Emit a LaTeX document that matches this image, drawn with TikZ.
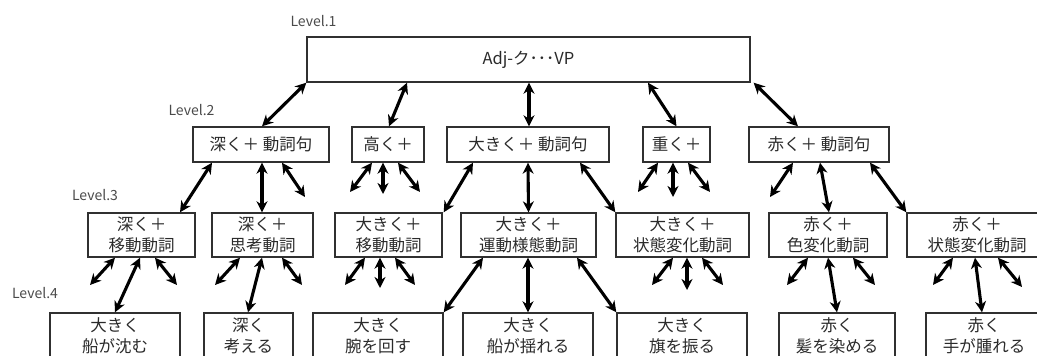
\documentclass[tikz,border=0pt]{standalone}
\usepackage{fontspec}
\setmainfont{Noto Sans CJK JP}
\usetikzlibrary{arrows.meta}
\definecolor{txt}{HTML}{2A2A2A}
\definecolor{frame}{HTML}{303030}
\tikzset{
  box/.style={draw=frame, line width=1.4pt, inner sep=0pt, align=center, text=txt, font=\fontsize{16.5}{20.5}\selectfont},
  lvl/.style={text=txt!85, font=\fontsize{14}{16}\selectfont, inner sep=0pt},
  link/.style={line width=3.1pt, {Stealth[length=11pt,width=11pt,inset=3.5pt]}-{Stealth[length=11pt,width=11pt,inset=3.5pt]}},
}
\begin{document}
\begin{tikzpicture}[x=1pt,y=-1pt]
\useasboundingbox (0,0) rectangle (1037,356);
\clip (0,0) rectangle (1037,356);

% Level labels
\node[lvl] (lv1) at (313.5,21) {Level.1};
\node[lvl] (lv2) at (191.5,110) {Level.2};
\node[lvl] (lv3) at (95,195) {Level.3};
\node[lvl] (lv4) at (35,293) {Level.4};

% Level 1
\node[box, minimum width=443pt, minimum height=45pt] (l1) at (528.5,59.5) {Adj-ク･･･VP};

% Level 2
\node[box, minimum width=136pt, minimum height=35pt] (l2a) at (261,144.5) {深く＋ 動詞句};
\node[box, minimum width=72pt, minimum height=35pt] (l2b) at (388,144.5) {高く＋};
\node[box, minimum width=162pt, minimum height=35pt] (l2c) at (528,144.5) {大きく＋ 動詞句};
\node[box, minimum width=67pt, minimum height=35pt] (l2d) at (676.5,144.5) {重く＋};
\node[box, minimum width=140pt, minimum height=35pt] (l2e) at (819,144.5) {赤く＋ 動詞句};

% Level 3
\node[box, minimum width=107pt, minimum height=44pt] (l3a) at (141.5,235) {深く＋\\移動動詞};
\node[box, minimum width=101pt, minimum height=44pt] (l3b) at (262.5,235) {深く＋\\思考動詞};
\node[box, minimum width=107pt, minimum height=44pt] (l3c) at (388.5,235) {大きく＋\\移動動詞};
\node[box, minimum width=135pt, minimum height=44pt] (l3d) at (528.5,235) {大きく＋\\運動様態動詞};
\node[box, minimum width=133pt, minimum height=44pt] (l3e) at (682.5,235) {大きく＋\\状態変化動詞};
\node[box, minimum width=118pt, minimum height=44pt] (l3f) at (828,235) {赤く＋\\色変化動詞};
\node[box, minimum width=140pt, minimum height=44pt] (l3g) at (977,235) {赤く＋\\状態変化動詞};

% Level 4
\node[box, minimum width=130pt, minimum height=46pt] (l4a) at (115,336) {大きく\\船が沈む};
\node[box, minimum width=89pt, minimum height=46pt] (l4b) at (248.5,336) {深く\\考える};
\node[box, minimum width=130pt, minimum height=46pt] (l4c) at (378,336) {大きく\\腕を回す};
\node[box, minimum width=130pt, minimum height=46pt] (l4d) at (528,336) {大きく\\船が揺れる};
\node[box, minimum width=130pt, minimum height=46pt] (l4e) at (682,336) {大きく\\旗を振る};
\node[box, minimum width=116pt, minimum height=46pt] (l4f) at (837,336) {赤く\\髪を染める};
\node[box, minimum width=116pt, minimum height=46pt] (l4g) at (984,336) {赤く\\手が腫れる};

% free ends
\coordinate (f2a) at (305,197);
\coordinate (f2b1) at (350,192);
\coordinate (f2b2) at (383,194);
\coordinate (f2b3) at (420,192);
\coordinate (f2d1) at (638,192);
\coordinate (f2d2) at (673,197);
\coordinate (f2d3) at (710,192);
\coordinate (f2e) at (770,197);
\coordinate (f3a1) at (90,285);
\coordinate (f3a2) at (177,285);
\coordinate (f3b1) at (215,285);
\coordinate (f3b2) at (302,285);
\coordinate (f3c1) at (345,285);
\coordinate (f3c2) at (380,288);
\coordinate (f3c3) at (415,285);
\coordinate (f3e1) at (652,285);
\coordinate (f3e2) at (687,290);
\coordinate (f3e3) at (723,285);
\coordinate (f3f1) at (787,285);
\coordinate (f3f2) at (875,285);
\coordinate (f3g1) at (933,285);
\coordinate (f3g2) at (1022,287);

% L1 -> L2
\draw[link] (l1.south west) -- ([xshift=1pt]l2a.north);
\draw[link] ([xshift=-121.5pt]l1.south) -- ([xshift=1pt]l2b.north);
\draw[link] ([xshift=0.5pt]l1.south) -- ([xshift=1pt]l2c.north);
\draw[link] ([xshift=119.5pt]l1.south) -- (l2d.north);
\draw[link] ([xshift=3pt]l1.south east) -- ([xshift=-21pt]l2e.north);

% L2 -> L3
\draw[link] ([xshift=-49pt]l2a.south) -- ([xshift=38.5pt]l3a.north);
\draw[link] ([xshift=1pt]l2a.south) -- ([xshift=-0.5pt]l3b.north);
\draw[link] ([xshift=21pt]l2a.south) -- (f2a);
\draw[link] ([xshift=-16pt]l2b.south) -- (f2b1);
\draw[link] ([xshift=-5pt]l2b.south) -- (f2b2);
\draw[link] ([xshift=10pt]l2b.south) -- (f2b3);
\draw[link] ([xshift=-55pt]l2c.south) -- ([xshift=1pt]l3c.north east);
\draw[link] (l2c.south) -- (l3d.north);
\draw[link] ([xshift=52pt]l2c.south) -- (l3e.north west);
\draw[link] ([xshift=-18.5pt]l2d.south) -- (f2d1);
\draw[link] ([xshift=-3.5pt]l2d.south) -- (f2d2);
\draw[link] ([xshift=11.5pt]l2d.south) -- (f2d3);
\draw[link] ([xshift=-26pt]l2e.south) -- (f2e);
\draw[link] ([xshift=1pt]l2e.south) -- ([xshift=1pt]l3f.north);
\draw[link] ([xshift=51pt]l2e.south) -- (l3g.north west);

% L3 -> L4
\draw[link] ([xshift=-26.5pt]l3a.south) -- (f3a1);
\draw[link] ([xshift=-1.5pt]l3a.south) -- (l4a.north);
\draw[link] ([xshift=13.5pt]l3a.south) -- (f3a2);
\draw[link] ([xshift=-22.5pt]l3b.south) -- (f3b1);
\draw[link] ([xshift=-0.5pt]l3b.south) -- ([xshift=-0.5pt]l4b.north);
\draw[link] ([xshift=19.5pt]l3b.south) -- (f3b2);
\draw[link] ([xshift=-23.5pt]l3c.south) -- (f3c1);
\draw[link] ([xshift=-8.5pt]l3c.south) -- (f3c2);
\draw[link] ([xshift=6.5pt]l3c.south) -- (f3c3);
\draw[link] ([xshift=-45.5pt]l3d.south) -- (l4c.north east);
\draw[link] ([xshift=-0.5pt]l3d.south) -- (l4d.north);
\draw[link] ([xshift=48.5pt]l3d.south) -- (l4e.north west);
\draw[link] ([xshift=-9.5pt]l3e.south) -- (f3e1);
\draw[link] ([xshift=4.5pt]l3e.south) -- (f3e2);
\draw[link] ([xshift=19.5pt]l3e.south) -- (f3e3);
\draw[link] ([xshift=-20pt]l3f.south) -- (f3f1);
\draw[link] (l3f.south) -- (l4f.north);
\draw[link] ([xshift=25pt]l3f.south) -- (f3f2);
\draw[link] ([xshift=-24pt]l3g.south) -- (f3g1);
\draw[link] ([xshift=-2pt]l3g.south) -- ([xshift=-2pt]l4g.north);
\draw[link] ([xshift=21pt]l3g.south) -- (f3g2);
\end{tikzpicture}
\end{document}
